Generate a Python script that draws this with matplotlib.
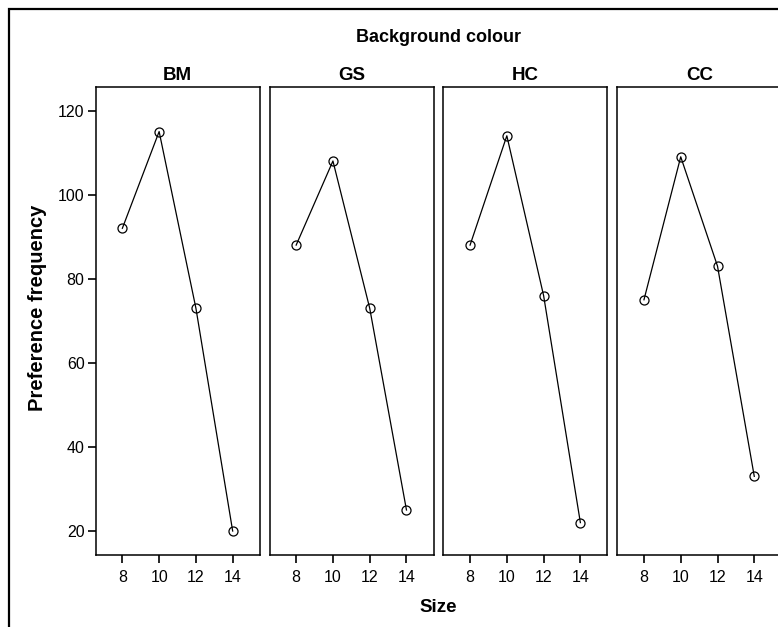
import numpy as np
import matplotlib.pyplot as plt
from matplotlib.patches import Rectangle

plt.rcParams['font.family'] = ['Liberation Sans', 'DejaVu Sans']

# data
sizes = [8, 10, 12, 14]
panels = ['BM', 'GS', 'HC', 'CC']
bm = [92, 115, 73, 20]
gs = [88, 108, 73, 25]
hc = [88, 114, 76, 22]
cc = [75, 109, 83, 33]
series = [bm, gs, hc, cc]

W, H = 778, 627
fig = plt.figure(figsize=(W / 100, H / 100), dpi=100)

# outer frame (cropped at the right and bottom edges)
fig.patches.append(Rectangle((9 / W, -0.1), 1.2, 1 - 9 / H + 0.1, transform=fig.transFigure,
                             fill=False, edgecolor='black', linewidth=1.6, clip_on=False))

lefts = [95.7, 269.5, 443.4, 617.3]
ax_w = 164
top, bot = 87, 555
for i, (name, vals) in enumerate(zip(panels, series)):
    ax = fig.add_axes([lefts[i] / W, 1 - bot / H, ax_w / W, (bot - top) / H])
    ax.plot(sizes, vals, color='black', linewidth=0.9, marker='o', markersize=6.5,
            markerfacecolor='none', markeredgecolor='black', markeredgewidth=0.9)
    ax.set_xlim(6.55, 15.47)
    ax.set_ylim(14.3, 125.6)
    ax.set_xticks(sizes)
    ax.set_yticks([20, 40, 60, 80, 100, 120])
    ax.tick_params(direction='out', length=6, width=1.2, labelsize=11.5)
    ax.tick_params(axis='x', pad=5)
    ax.tick_params(axis='y', pad=2)
    for sp in ax.spines.values():
        sp.set_linewidth(1.1)
    if i > 0:
        ax.tick_params(axis='y', left=False, labelleft=False)
    ax.set_title(name, fontsize=13.5, fontweight='bold', pad=5)

mid_x = (95.7 + 617.3 + 164) / 2 / W
fig.text(mid_x, 1 - 37 / H, 'Background colour', ha='center', va='center',
         fontsize=13, fontweight='bold')
fig.text(mid_x, 1 - 607 / H, 'Size', ha='center', va='center',
         fontsize=13.5, fontweight='bold')
fig.text(38 / W, 1 - 308 / H, 'Preference frequency', ha='center', va='center',
         rotation=90, fontsize=14.5, fontweight='bold')

plt.savefig('out.png', dpi=100)
